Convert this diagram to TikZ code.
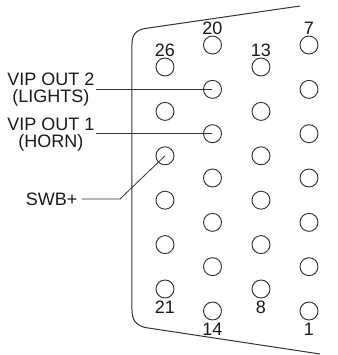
\documentclass[tikz,border=0pt]{standalone}
\usepackage{fontspec}
\setmainfont{Liberation Sans}
\usetikzlibrary{positioning}
\definecolor{wiregray}{RGB}{50, 50, 50}

\begin{document}
\begin{tikzpicture}[
    x=0.75pt, y=-0.75pt,
    pin/.style={circle, draw=wiregray, line width=0.7pt, minimum size=13.5pt, inner sep=0pt},
    num/.style={inner sep=0pt, font=\fontsize{13.5}{13.5}\selectfont, text=black!90},
    tag/.style={align=center, inner sep=1pt, font=\fontsize{13.5}{12.8}\selectfont, text=black!90},
    wire/.style={draw=wiregray, line width=0.6pt},
  ]
    \useasboundingbox (0,0) rectangle (338,355);

    % Shell
    \draw[wire, line width=0.75pt] (300,6) -- (145,28.5) .. controls (136,30) and (132,35) .. (132,44)
      -- (132,310) .. controls (132,320) and (136,325) .. (145,327.5) -- (320,354);

    % Pins
    \foreach \n in {1,...,7}
      \node[pin] (pin\n) at (309,{311-(\n-1)*44.33}) {};
    \foreach \n in {8,...,13}
      \node[pin] (pin\n) at (261,{289-(\n-8)*44.4}) {};
    \foreach \n in {14,...,20}
      \node[pin] (pin\n) at (212.5,{311-(\n-14)*44.33}) {};
    \foreach \n in {21,...,26}
      \node[pin] (pin\n) at (165,{289-(\n-21)*44.4}) {};

    % Pin numbers
    \node[num, above=0.5pt of pin7] (num7) {7};
    \node[num, above=0.5pt of pin13] (num13) {13};
    \node[num, above=0.5pt of pin20] (num20) {20};
    \node[num, above=0.5pt of pin26] (num26) {26};
    \node[num, below=2pt of pin1] (num1) {1};
    \node[num, below=1.5pt of pin8] (num8) {8};
    \node[num, below=2pt of pin14] (num14) {14};
    \node[num, below=1.5pt of pin21] (num21) {21};

    % Labels
    \node[tag, anchor=east] (lights) at (96,90) {VIP OUT 2\\(LIGHTS)};
    \node[tag, anchor=east] (horn) at (96,134.5) {VIP OUT 1\\(HORN)};
    \node[tag, anchor=east] (swb) at (79,199) {SWB+};
    \coordinate (bend) at (120,199);

    % Wires
    \draw[wire] (lights.east |- pin19) -- (pin19.center);
    \draw[wire] (horn.east |- pin18) -- (pin18.center);
    \draw[wire] (swb.east) ++(3,0) -- (bend) -- (pin24.center);
  \end{tikzpicture}
\end{document}
